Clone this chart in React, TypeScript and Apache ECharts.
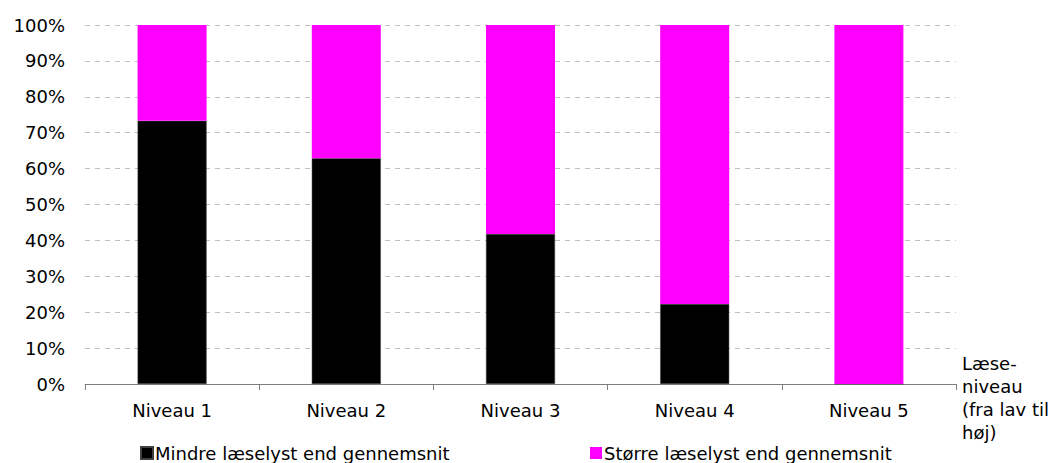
import React, { useEffect, useRef } from "react";
import * as echarts from "echarts";

const categories = ["Niveau 1", "Niveau 2", "Niveau 3", "Niveau 4", "Niveau 5"];
const mindre = [73.3, 62.9, 41.8, 22.3, 0];
const stoerre = [26.7, 37.1, 58.2, 77.7, 100];
const seriesNames = ["Mindre læselyst end gennemsnit", "Større læselyst end gennemsnit"];
const axisTitle = "Læse-\nniveau\n(fra lav til\nhøj)";

const FONT = "DejaVu Sans, Verdana, sans-serif";

export default function App() {
  const ref = useRef<HTMLDivElement>(null);
  useEffect(() => {
    if (!ref.current) return;
    const chart = echarts.init(ref.current, undefined, { renderer: "svg" });
    chart.setOption({
      animation: false,
      textStyle: { fontFamily: FONT },
      grid: { left: 85, right: 100, top: 25, bottom: 79 },
      legend: [
        {
          data: [seriesNames[0]],
          left: 140,
          top: 444,
          icon: "rect",
          itemWidth: 12,
          itemHeight: 12,
          padding: 0,
          textStyle: { fontFamily: FONT, fontSize: 18, color: "#000", padding: [0, 0, 0, -3] },
        },
        {
          data: [seriesNames[1]],
          left: 590,
          top: 444,
          icon: "rect",
          itemWidth: 12,
          itemHeight: 12,
          padding: 0,
          textStyle: { fontFamily: FONT, fontSize: 18, color: "#000", padding: [0, 0, 0, -3] },
        },
      ],
      xAxis: {
        type: "category",
        data: categories,
        boundaryGap: true,
        axisLine: { lineStyle: { color: "#808080", width: 1 } },
        axisTick: { show: true, length: 6, lineStyle: { color: "#808080" } },
        axisLabel: { fontFamily: FONT, fontSize: 18, color: "#000", margin: 17 },
      },
      yAxis: {
        type: "value",
        min: 0,
        max: 100,
        interval: 10,
        axisLine: { show: false },
        axisTick: { show: false },
        axisLabel: { formatter: "{value}%", fontFamily: FONT, fontSize: 18, color: "#000", margin: 20 },
        splitLine: { lineStyle: { type: [5, 5], color: "#c0c0c0", width: 1 } },
      },
      graphic: [
        {
          type: "text",
          left: 962,
          top: 352,
          style: { text: axisTitle, font: `18px ${FONT}`, fill: "#000", lineHeight: 23 },
        },
      ],
      series: [
        {
          name: seriesNames[0],
          type: "bar",
          stack: "total",
          data: mindre,
          barWidth: 69,
          itemStyle: { color: "#000000", borderColor: "#404040", borderWidth: 0.5 },
        },
        {
          name: seriesNames[1],
          type: "bar",
          stack: "total",
          data: stoerre,
          barWidth: 69,
          itemStyle: { color: "#ff00ff" },
        },
      ],
    });
    return () => chart.dispose();
  }, []);
  return (
    <div
      ref={ref}
      style={{ position: "fixed", left: 0, top: 0, width: 1056, height: 463, background: "#fff" }}
    />
  );
}
